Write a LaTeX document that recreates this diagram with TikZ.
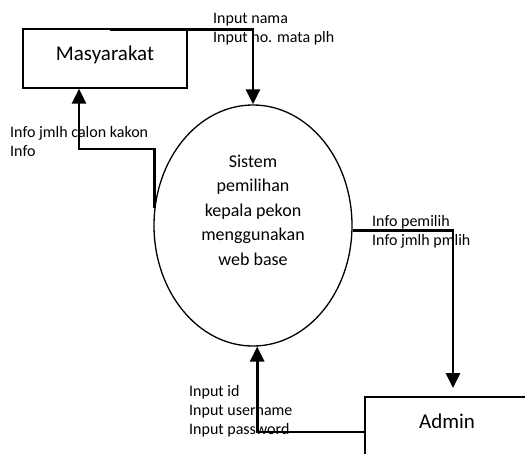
\documentclass[tikz,border=0pt]{standalone}
\usepackage{fontspec}
\setmainfont{Carlito}
\usetikzlibrary{arrows.meta,shapes.geometric,calc}

\begin{document}
\begin{tikzpicture}[x=1pt,y=-1pt,>={Triangle[length=15pt,width=14pt]},
  box/.style={draw,line width=1.4pt,minimum width=164pt,minimum height=59pt,inner sep=0pt,text depth=10pt,font=\fontsize{21}{25}\selectfont},
  proc/.style={draw,ellipse,line width=1.3pt,minimum width=198pt,minimum height=241pt,inner sep=0pt},
  flow/.style={->,line width=2.6pt},
  lbl/.style={anchor=west,inner sep=0pt,align=left,font=\fontsize{16}{19}\selectfont}]
\path[use as bounding box,clip] (0,0) rectangle (525,453);
% entities and process
\node[box] (masy) at (105,58.5) {Masyarakat};
\node[box] (admin) at (447,426.5) {Admin};
\node[proc] (sys) at (253,225.5) {};
\node[align=center,inner sep=0pt,font=\fontsize{18}{24.5}\selectfont] (systxt) at (253,210)
  {Sistem\\pemilihan\\kepala pekon\\menggunakan\\web base};
% data flows
\coordinate (nm) at (110,29.3);
\draw[flow] (nm) -| (sys.north);
\coordinate (ki) at (79,149);
\draw[flow] (sys.170) |- (ki) -- (ki |- masy.south);
\coordinate (ka) at (453,388);
\draw[flow] (sys.-3) -| (ka);
\coordinate (pw) at (365,432);
\draw[flow] (pw) -| (sys.-88);
% flow labels
\node[lbl] (lnama) at (213,29.5) {Input nama\\Input no. mata plh};
\node[lbl] (linfo) at (10,141) {Info jmlh calon kakon\\Info};
\node[lbl] (lpmlh) at (372,232) {Info pemilih\\Info jmlh pmlih};
\node[lbl] (lid) at (189,411.5) {Input id\\Input username\\Input password};
\end{tikzpicture}
\end{document}
